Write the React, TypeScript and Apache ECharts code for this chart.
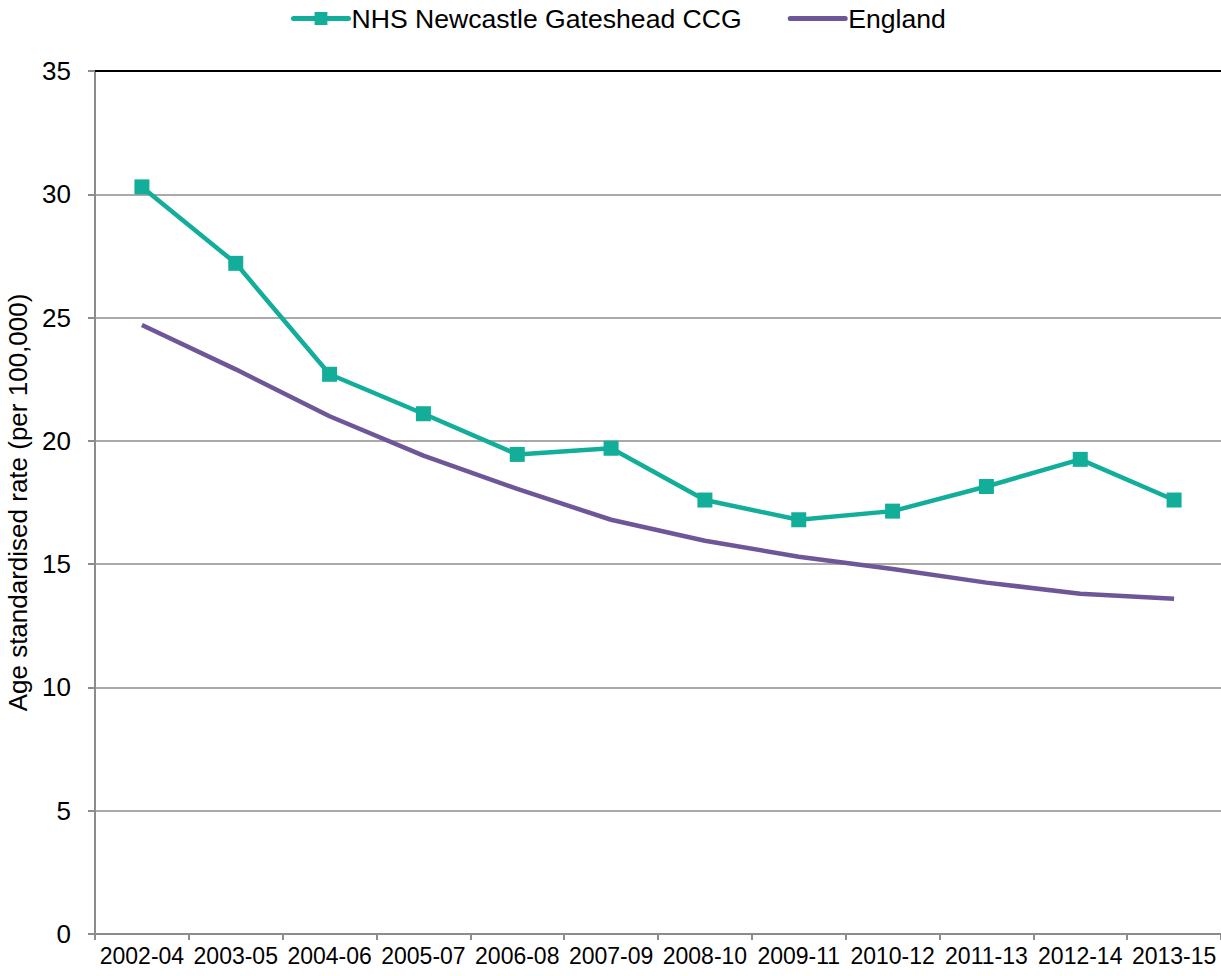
import React, { useEffect, useRef } from "react";
import * as echarts from "echarts";

const categories = [
  "2002-04", "2003-05", "2004-06", "2005-07", "2006-08", "2007-09",
  "2008-10", "2009-11", "2010-12", "2011-13", "2012-14", "2013-15",
];
const nhsValues = [30.3, 27.2, 22.7, 21.1, 19.45, 19.7, 17.6, 16.8, 17.15, 18.15, 19.25, 17.6];
const englandValues = [24.7, 22.9, 21.0, 19.4, 18.05, 16.8, 15.95, 15.3, 14.8, 14.25, 13.8, 13.6];
const yTicks = [0, 5, 10, 15, 20, 25, 30, 35];

const FONT = "'Liberation Sans', Arial, sans-serif";
const TEAL = "#12ae9a";
const PURPLE = "#6e5798";

export default function App() {
  const ref = useRef<HTMLDivElement>(null);
  useEffect(() => {
    if (!ref.current) return;
    const chart = echarts.init(ref.current, undefined, { renderer: "svg" });
    chart.setOption({
      animation: false,
      textStyle: { fontFamily: FONT },
      legend: {
        top: 0,
        left: 286,
        itemGap: 46,
        itemWidth: 55,
        itemHeight: 16,
        lineStyle: { width: 5, cap: "round" },
        textStyle: { fontSize: 26.6, color: "#000", fontFamily: FONT, padding: [0, 0, 0, -2] },
        data: [
          { name: "NHS Newcastle Gateshead CCG" },
          { name: "England", itemStyle: { opacity: 0 } },
        ],
      },
      grid: { left: 95, right: 0, top: 71, bottom: 42, containLabel: false, outerBoundsMode: "none" },
      xAxis: [
        {
          type: "category",
          data: categories,
          boundaryGap: true,
          axisLine: { lineStyle: { color: "#8c8c8c", width: 2 } },
          axisTick: { show: true, length: 6, lineStyle: { color: "#8c8c8c", width: 2 } },
          axisLabel: { color: "#000", fontSize: 23, margin: 10, fontFamily: FONT, interval: 0 },
        },
        {
          type: "category",
          data: categories,
          position: "top",
          axisLine: { lineStyle: { color: "#000", width: 2 } },
          axisTick: { show: false },
          axisLabel: { show: false },
        },
      ],
      yAxis: {
        type: "value",
        min: yTicks[0],
        max: yTicks[yTicks.length - 1],
        interval: 5,
        name: "Age standardised rate (per 100,000)",
        nameLocation: "middle",
        nameGap: 62,
        nameTextStyle: { fontSize: 26, color: "#000", fontFamily: FONT },
        axisLine: { show: true, lineStyle: { color: "#8c8c8c", width: 2 } },
        axisTick: { show: true, length: 7, lineStyle: { color: "#8c8c8c", width: 2 } },
        axisLabel: { color: "#000", fontSize: 26, margin: 24, fontFamily: FONT },
        splitLine: { show: true, lineStyle: { color: "#8c8c8c", width: 1.5 } },
      },
      series: [
        {
          name: "NHS Newcastle Gateshead CCG",
          type: "line",
          data: nhsValues,
          symbol: "rect",
          symbolSize: 15,
          itemStyle: { color: TEAL },
          lineStyle: { color: TEAL, width: 4.5 },
          z: 3,
        },
        {
          name: "England",
          type: "line",
          data: englandValues,
          symbol: "none",
          itemStyle: { color: PURPLE },
          lineStyle: { color: PURPLE, width: 4.5 },
          z: 2,
        },
      ],
    });
    return () => chart.dispose();
  }, []);
  return <div ref={ref} style={{ width: 1221, height: 976, position: "absolute", left: 0, top: 0 }} />;
}
